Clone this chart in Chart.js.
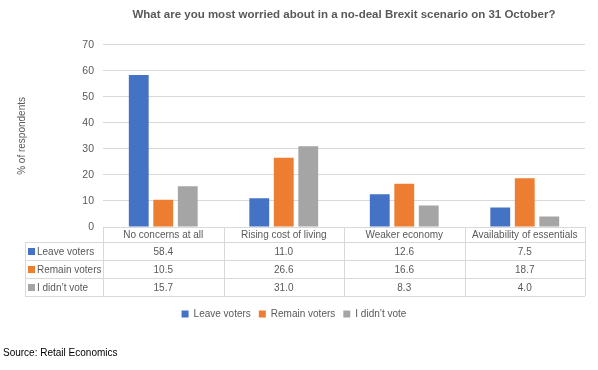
<!DOCTYPE html>
<html>
<head>
<meta charset="utf-8">
<script src="https://cdn.jsdelivr.net/npm/chart.js@4/dist/chart.umd.min.js"></script>
<style>
  html, body { margin: 0; padding: 0; background: #fff; }
  #wrap { width: 598px; height: 370px; }
</style>
</head>
<body>
<div id="wrap"><canvas id="brexitChart"></canvas></div>
<script>
const categories = ['No concerns at all', 'Rising cost of living', 'Weaker economy', 'Availability of essentials'];
const leaveVoters = [58.4, 11.0, 12.6, 7.5];
const remainVoters = [10.5, 26.6, 16.6, 18.7];
const didNotVote = [15.7, 31.0, 8.3, 4.0];
const seriesNames = ['Leave voters', 'Remain voters', 'I didn\u2019t vote'];
const yTicks = [0, 10, 20, 30, 40, 50, 60, 70];

const colours = ['#4472C4', '#ED7D31', '#A5A5A5'];
const textGrey = '#595959';
const lineGrey = '#d9d9d9';
const fontFamily = '"Liberation Sans", Arial, sans-serif';

// data table under the x axis, drawn from the x scale
const dataTable = {
    id: 'dataTable',
    afterDraw(chart) {
        const ctx = chart.ctx;
        const x = chart.scales.x;
        const top = chart.chartArea.bottom;
        const tableLeft = 25;
        const headH = 15;
        const rowH = 18;
        const colW = (x.right - x.left) / categories.length;
        const rows = [leaveVoters, remainVoters, didNotVote];
        const bottom = top + headH + rowH * rows.length;

        ctx.save();
        ctx.strokeStyle = lineGrey;
        ctx.lineWidth = 1;
        ctx.beginPath();
        // horizontal lines
        ctx.moveTo(x.left, top + 0.5);
        ctx.lineTo(x.right, top + 0.5);
        for (let r = 0; r <= rows.length; r++) {
            const y = Math.round(top + headH + rowH * r) + 0.5;
            ctx.moveTo(tableLeft, y);
            ctx.lineTo(x.right, y);
        }
        // vertical lines
        ctx.moveTo(tableLeft + 0.5, top + headH);
        ctx.lineTo(tableLeft + 0.5, bottom);
        for (let c = 0; c <= categories.length; c++) {
            const xx = Math.round(x.left + colW * c) + 0.5;
            ctx.moveTo(xx, top);
            ctx.lineTo(xx, bottom);
        }
        ctx.stroke();

        ctx.fillStyle = textGrey;
        ctx.font = '10px ' + fontFamily;
        ctx.textAlign = 'center';
        ctx.textBaseline = 'middle';
        categories.forEach((cat, c) => {
            ctx.fillText(cat, x.left + colW * (c + 0.5), top + headH / 2 + 1);
        });
        rows.forEach((vals, r) => {
            const cy = top + headH + rowH * (r + 0.5) + 1;
            vals.forEach((v, c) => {
                ctx.fillStyle = textGrey;
                ctx.textAlign = 'center';
                ctx.fillText(v.toFixed(1), x.left + colW * (c + 0.5), cy);
            });
            ctx.fillStyle = colours[r];
            ctx.fillRect(tableLeft + 3, cy - 4, 7, 7);
            ctx.fillStyle = textGrey;
            ctx.textAlign = 'left';
            ctx.fillText(seriesNames[r], tableLeft + 12, cy);
        });
        ctx.restore();
    }
};

const ctx = document.getElementById('brexitChart').getContext('2d');
new Chart(ctx, {
    type: 'bar',
    data: {
        labels: categories,
        datasets: [
            { label: seriesNames[0], data: leaveVoters, backgroundColor: colours[0] },
            { label: seriesNames[1], data: remainVoters, backgroundColor: colours[1] },
            { label: seriesNames[2], data: didNotVote, backgroundColor: colours[2] }
        ]
    },
    options: {
        responsive: true,
        maintainAspectRatio: false,
        animation: false,
        layout: { padding: { left: 3, right: 13 } },
        datasets: {
            bar: { categoryPercentage: 0.61, barPercentage: 0.81 }
        },
        plugins: {
            title: {
                display: true,
                text: 'What are you most worried about in a no-deal Brexit scenario on 31 October?',
                color: textGrey,
                fullSize: false,
                font: { family: fontFamily, size: 11.5, weight: 'bold' },
                padding: { top: 8, bottom: 23 }
            },
            subtitle: {
                display: true,
                position: 'bottom',
                align: 'start',
                text: 'Source: Retail Economics',
                color: '#000',
                font: { family: fontFamily, size: 10 },
                padding: { top: 18, bottom: 11 }
            },
            legend: {
                position: 'bottom',
                labels: {
                    color: textGrey,
                    boxWidth: 7,
                    boxHeight: 7,
                    padding: 8,
                    font: { family: fontFamily, size: 10 }
                }
            },
            tooltip: { enabled: false }
        },
        scales: {
            x: {
                grid: { display: false },
                border: { display: false },
                ticks: { display: false },
                afterFit(scale) { scale.height = 74; }
            },
            y: {
                min: 0,
                max: 70,
                afterBuildTicks(scale) { scale.ticks = yTicks.map(v => ({ value: v })); },
                grid: { color: lineGrey, drawTicks: false },
                border: { display: false },
                ticks: {
                    color: textGrey,
                    padding: 9,
                    font: { family: fontFamily, size: 10.5 }
                },
                title: {
                    display: true,
                    text: '% of respondents',
                    color: textGrey,
                    font: { family: fontFamily, size: 10 },
                    padding: { top: 13, bottom: 0 }
                },
                afterFit(scale) { scale.width = 100; }
            }
        }
    },
    plugins: [dataTable]
});
</script>
</body>
</html>
